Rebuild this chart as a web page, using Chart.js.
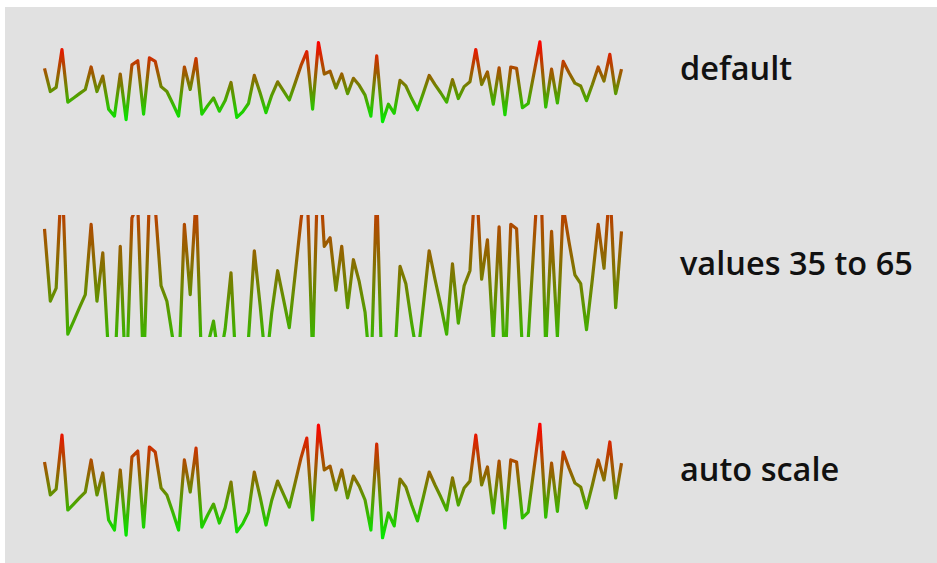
<!doctype html>
<html>
<head>
<meta charset="utf-8">
<title>Sparklines</title>
<script src="https://cdn.jsdelivr.net/npm/chart.js@4/dist/chart.umd.min.js"></script>
<style>
  body { margin: 0; background: #fff; width: 937px; height: 563px; overflow: hidden; font-family: "Open Sans", sans-serif; }
  #panel { position: absolute; left: 5px; top: 7px; right: 0; bottom: 0; background: #e1e1e1; }
  canvas { position: absolute; left: 40px; }
  .label { position: absolute; left: 680px; font-size: 32.5px; font-weight: 600; line-height: 34px; color: #111; white-space: nowrap; }
</style>
</head>
<body>
<div id="panel"></div>
<canvas id="c-default" width="586" height="139" style="top:14px"></canvas>
<canvas id="c-range" width="586" height="130" style="top:211px"></canvas>
<canvas id="c-auto" width="586" height="122" style="top:420px"></canvas>
<div class="label" style="top:51px">default</div>
<div class="label" style="top:246px">values 35 to 65</div>
<div class="label" style="top:452px">auto scale</div>
<script>
// one series, drawn three times with different y ranges
var values = [
  61.6, 43.8, 47.0, 76.1, 35.7, 38.9, 42.2, 45.4, 62.7, 43.8,
  55.7, 30.3, 24.9, 57.3, 22.2, 64.3, 67.5, 26.5, 69.7, 67.0,
  47.6, 43.8, 34.6, 24.9, 62.7, 45.4, 69.1, 26.5, 33.0, 38.9,
  28.7, 37.0, 50.8, 23.9, 28.2, 34.6, 56.2, 42.7, 27.6, 41.1,
  51.3, 44.3, 37.3, 50.3, 63.7, 74.5, 30.3, 81.5, 57.3, 59.4,
  46.5, 57.3, 42.2, 54.0, 48.6, 41.1, 24.9, 71.3, 20.6, 34.1,
  27.1, 52.4, 48.1, 38.4, 29.8, 42.7, 56.2, 49.2, 42.7, 35.7,
  53.0, 38.4, 47.6, 51.3, 76.1, 49.2, 58.9, 34.1, 62.1, 26.0,
  62.7, 61.6, 31.4, 34.6, 58.3, 82.1, 31.9, 61.0, 35.0, 67.0,
  58.3, 50.3, 48.1, 36.8, 49.2, 62.7, 51.9, 72.4, 42.2, 61.0
];
var labels = values.map(function(v, i) { return i + 1; });

var lowColor = 'rgb(0,235,0)';
var highColor = 'rgb(255,0,0)';
var dataMin = Math.min.apply(null, values);
var dataMax = Math.max.apply(null, values);

function gradientColor(context) {
  var chart = context.chart;
  if (!chart.chartArea) return lowColor;
  var y = chart.scales.y;
  var g = chart.ctx.createLinearGradient(0, y.getPixelForValue(dataMin), 0, y.getPixelForValue(dataMax));
  g.addColorStop(0, lowColor);
  g.addColorStop(1, highColor);
  return g;
}

function sparkline(id, yOpts, pad) {
  var ctx = document.getElementById(id).getContext('2d');
  return new Chart(ctx, {
    type: 'line',
    data: {
      labels: labels,
      datasets: [{
        data: values,
        borderColor: gradientColor,
        borderWidth: 3.2,
        borderJoinStyle: 'round',
        pointRadius: 0,
        tension: 0,
        fill: false
      }]
    },
    options: {
      responsive: false,
      animation: false,
      layout: { padding: pad },
      plugins: { legend: { display: false }, tooltip: { enabled: false } },
      scales: {
        x: { display: false },
        y: Object.assign({ display: false }, yOpts)
      }
    }
  });
}

sparkline('c-default', { min: 0, max: 100 }, { left: 4.5, right: 4.5, top: 4.5, bottom: 4.5 });
sparkline('c-range', { min: 35, max: 65 }, { left: 4.5, right: 4.5, top: 4, bottom: 4 });
sparkline('c-auto', { bounds: 'data', grace: 0 }, { left: 4.5, right: 4.5, top: 4, bottom: 4 });
</script>
</body>
</html>
